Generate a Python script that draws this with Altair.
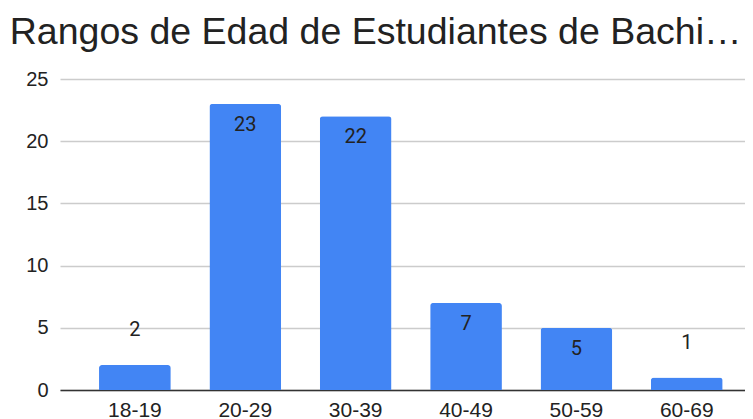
import altair as alt
import pandas as pd

categories = ["18-19", "20-29", "30-39", "40-49", "50-59", "60-69"]
values = [2, 23, 22, 7, 5, 1]
y_ticks = [0, 5, 10, 15, 20, 25]

df = pd.DataFrame({"rango": categories, "valor": values})
df["dentro"] = df["valor"] >= 5

x = alt.X("rango:N", sort=categories, title=None,
          scale=alt.Scale(paddingInner=0.35, paddingOuter=0.278, align=0.636),
          axis=alt.Axis(labelAngle=0, labelFont="Liberation Sans", labelFontSize=21,
                        labelColor="#222222", domainColor="#333333", domainWidth=1.5,
                        ticks=False, labelPadding=9))
y = alt.Y("valor:Q", title=None,
          scale=alt.Scale(domain=[0, 25], nice=False),
          axis=alt.Axis(values=y_ticks, labelFont="Liberation Sans", labelFontSize=20,
                        labelColor="#222222", domain=False, ticks=False, labelPadding=12,
                        gridColor="#cccccc", gridWidth=1.3))

base = alt.Chart(df)
bars = base.mark_bar(color="#4285F4", cornerRadiusTopLeft=3, cornerRadiusTopRight=3).encode(x=x, y=y)
inside = base.transform_filter("datum.dentro").mark_text(
    font="Roboto", fontSize=20, color="#222222", baseline="middle", dy=21
).encode(x=x, y=y, text="valor:Q")
outside = base.transform_filter("!datum.dentro").mark_text(
    font="Roboto", fontSize=20, color="#222222", baseline="middle", dy=-35
).encode(x=x, y=y, text="valor:Q")

chart = alt.layer(bars, inside, outside).properties(
    width=685, height=311,
    title=alt.TitleParams("Rangos de Edad de Estudiantes de Bachi…", anchor="start",
                          font="Liberation Sans", fontSize=37.5, fontWeight="normal",
                          color="#222222", dx=-16, offset=18),
    autosize=alt.AutoSizeParams(type="none"),
    padding={"left": 52, "top": 71, "right": 0, "bottom": 29},
).configure_view(stroke=None)

chart.save("out.html", embed_options={"renderer": "svg", "actions": False})
